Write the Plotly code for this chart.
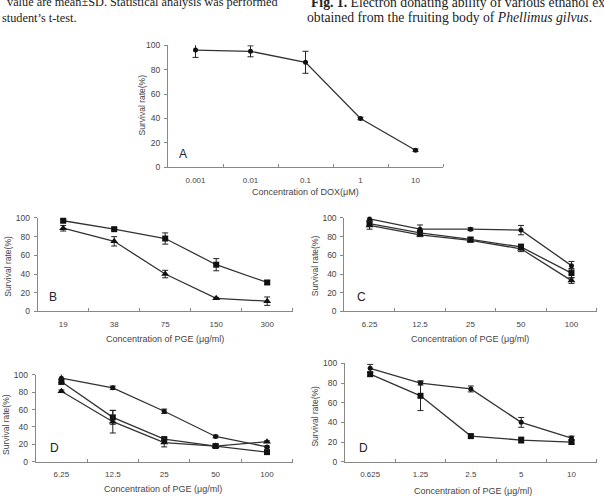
import plotly.graph_objects as go

# ---------------- data ----------------
cats_A = ["0.001", "0.01", "0.1", "1", "10"]
A_dox = [96, 95, 86, 40, 14]
A_dox_err = [6, 4.5, 9, 1, 1]

cats_B = ["19", "38", "75", "150", "300"]
B_sq = [97, 88, 78, 50, 31]
B_sq_err = [1.5, 1.5, 6, 6.5, 2]
B_tri = [89, 75, 40, 14, 11]
B_tri_err = [3, 5, 4, 1, 4.5]

cats_C = ["6.25", "12.5", "25", "50", "100"]
C_ci = [99, 88, 88, 87, 49]
C_ci_err = [2, 4.5, 1.5, 5, 4.5]
C_sq = [94, 84, 77, 69, 41]
C_sq_err = [3, 2, 2, 3, 5]
C_tri = [92, 82, 76, 67, 33]
C_tri_err = [4, 2, 2, 3, 3]

cats_D1 = ["6.25", "12.5", "25", "50", "100"]
D1_ci = [96, 85, 58, 29, 17]
D1_ci_err = [5, 2, 2.5, 1.5, 1]
D1_sq = [92, 51, 26, 18, 11]
D1_sq_err = [3, 8, 2, 1.5, 1]
D1_tri = [81, 46, 22, 18, 23]
D1_tri_err = [1.5, 13, 5, 2, 1]

cats_D2 = ["0.625", "1.25", "2.5", "5", "10"]
D2_ci = [95, 80, 74, 40, 24]
D2_ci_err = [4, 2, 3, 5, 2]
D2_sq = [89, 67, 26, 22, 20]
D2_sq_err = [2, 15, 2, 3, 2]

W, H = 604, 500
def fx(px): return px / W
def fy(py): return 1 - py / H

TXT = "#444"
LINE = "#333"
AX = "#888"
FONT = "Liberation Sans, Arial, sans-serif"

fig = go.Figure()

# panel geometry (pixel boxes) : x0, x1, y_top(100), y_bottom(0)
panels = [
    dict(name="A", cats=cats_A, box=(168, 443, 41, 165.7),
         series=[(A_dox, A_dox_err, "circle", 5)],
         xtitle="Concentration of DOX(\u03bcM)", xt=(305, 191),
         ytitle_pos=(141.5, 102), lab=(183, 152)),
    dict(name="B", cats=cats_B, box=(37.7, 292.7, 217.3, 312.7),
         series=[(B_sq, B_sq_err, "square", 6), (B_tri, B_tri_err, "triangle-up", 7)],
         xtitle="Concentration of PGE (\u03bcg/ml)", xt=(165, 341),
         ytitle_pos=(8, 267), lab=(53, 297.7)),
    dict(name="C", cats=cats_C, box=(344.3, 596.7, 217.3, 312.7),
         series=[(C_ci, C_ci_err, "circle", 5), (C_sq, C_sq_err, "square", 6),
                 (C_tri, C_tri_err, "triangle-up", 7)],
         xtitle="Concentration of PGE (\u03bcg/ml)", xt=(470, 341),
         ytitle_pos=(315, 266.5), lab=(361.7, 297.7)),
    dict(name="D", cats=cats_D1, box=(35.7, 292.7, 377.3, 466),
         series=[(D1_ci, D1_ci_err, "circle", 5), (D1_sq, D1_sq_err, "square", 6),
                 (D1_tri, D1_tri_err, "triangle-up", 7)],
         xtitle="Concentration of PGE (\u03bcg/ml)", xt=(163, 494),
         ytitle_pos=(6.5, 428), lab=(54.3, 451.7)),
    dict(name="D", cats=cats_D2, box=(345, 596.7, 365.7, 466),
         series=[(D2_ci, D2_ci_err, "circle", 5), (D2_sq, D2_sq_err, "square", 6)],
         xtitle="Concentration of PGE (\u03bcg/ml)", xt=(473, 495.7),
         ytitle_pos=(315, 420), lab=(363, 451.7)),
]

annotations = []
layout_axes = {}
for i, p in enumerate(panels):
    idx = "" if i == 0 else str(i + 1)
    xa, ya = "x" + idx, "y" + idx
    x0, x1, yt, yb = p["box"]
    xpos = list(range(len(p["cats"])))
    for vals, errs, sym, sz in p["series"]:
        fig.add_trace(go.Scatter(
            x=xpos, y=vals, xaxis=xa, yaxis=ya, mode="lines+markers",
            line=dict(color=LINE, width=1.3),
            marker=dict(symbol=sym, size=sz, color="#111"),
            error_y=dict(type="data", array=errs, visible=True, color="#222",
                         thickness=1, width=3),
            cliponaxis=False, showlegend=False, hoverinfo="skip"))
    layout_axes["xaxis" + idx] = dict(
        domain=[fx(x0), fx(x1)], anchor=ya, range=[-0.5, len(xpos) - 0.5],
        tickmode="array", tickvals=xpos, ticktext=p["cats"], ticks="",
        showline=True, linecolor=AX, linewidth=1, showgrid=False, zeroline=False,
        tickfont=dict(family=FONT, size=8, color=TXT), ticklabelstandoff=5,
        minor=dict(tickmode="array", tickvals=[k + 0.5 for k in xpos],
                   ticks="inside", ticklen=3, tickcolor=AX, tickwidth=1, showgrid=False),
        fixedrange=True)
    layout_axes["yaxis" + idx] = dict(
        domain=[fy(yb), fy(yt)], anchor=xa, range=[0, 100], dtick=20, tick0=0,
        ticks="outside", ticklen=3, tickcolor=AX, showline=True, linecolor=AX,
        linewidth=1, showgrid=False, zeroline=False,
        tickfont=dict(family=FONT, size=8.5, color=TXT), ticklabelstandoff=2,
        fixedrange=True)
    annotations.append(dict(text=p["xtitle"], x=fx(p["xt"][0]), y=fy(p["xt"][1]),
                            xref="paper", yref="paper", showarrow=False,
                            xanchor="center", yanchor="middle",
                            font=dict(family=FONT, size=9, color=TXT)))
    annotations.append(dict(text="Survival rate(%)", x=fx(p["ytitle_pos"][0]),
                            y=fy(p["ytitle_pos"][1]), xref="paper", yref="paper",
                            showarrow=False, textangle=-90, xanchor="center",
                            yanchor="middle", font=dict(family=FONT, size=8.5, color=TXT)))
    annotations.append(dict(text=p["name"], x=fx(p["lab"][0]), y=fy(p["lab"][1]),
                            xref="paper", yref="paper", showarrow=False,
                            xanchor="center", yanchor="middle",
                            font=dict(family=FONT, size=12, color="#222")))

# surrounding page text (cropped at the top edge, as in the reference)
SERIF = "Liberation Serif, Times New Roman, serif"
page_text = [
    ("value are mean\u00b1SD. Statistical analysis was performed", 5, -3, 12.3),
    ("student\u2019s t-test.", 0, 13, 12.3),
    ("<b>Fig. 1.</b> Electron donating ability of various ethanol extracts", 309, -3, 13.7),
    ("obtained from the fruiting body of <i>Phellimus gilvus</i>.", 305, 13, 13.7),
]
for t, px, py, fs in page_text:
    annotations.append(dict(text=t, x=fx(px), y=fy(py), xref="paper", yref="paper",
                            showarrow=False, xanchor="left", yanchor="middle",
                            font=dict(family=SERIF, size=fs, color="#222")))

fig.update_layout(width=W, height=H, margin=dict(l=0, r=0, t=0, b=0),
                  paper_bgcolor="white", plot_bgcolor="white",
                  annotations=annotations, **layout_axes)

fig.write_html("out.html")
